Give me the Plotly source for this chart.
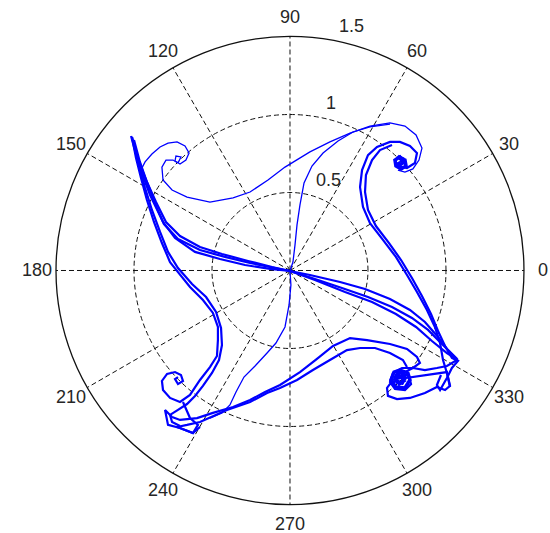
import numpy as np
import plotly.graph_objects as go

# Trajectory pieces, as cartesian components in data units (x = r cos t, y = r sin t)

# diagonal bundle: upper-left tip -> origin -> lower-right tip (three passes)
diag_a_x = [-1.013, -0.981, -0.942, -0.897, -0.859, -0.808, -0.718, -0.577, -0.417, -0.256, -0.096, 0.0,
            0.128, 0.321, 0.481, 0.641, 0.769, 0.865, 0.949, 1.013, 1.071]
diag_a_y = [0.856, 0.740, 0.631, 0.516, 0.413, 0.298, 0.202, 0.131, 0.087, 0.048, 0.016, -0.003,
            -0.029, -0.074, -0.119, -0.183, -0.253, -0.330, -0.426, -0.510, -0.567]
diag_b_x = [-1.000, -0.962, -0.917, -0.859, -0.795, -0.705, -0.577, -0.436, -0.269, -0.115, 0.0,
            0.141, 0.333, 0.500, 0.654, 0.782, 0.885, 0.974, 1.071]
diag_b_y = [0.837, 0.696, 0.567, 0.439, 0.311, 0.221, 0.151, 0.106, 0.061, 0.022, -0.003,
            -0.048, -0.112, -0.170, -0.234, -0.304, -0.381, -0.471, -0.567]
diag_c_x = [-1.019, -0.968, -0.897, -0.814, -0.737, -0.609, -0.449, -0.288, -0.128, 0.0,
            0.160, 0.353, 0.526, 0.679, 0.808, 0.910, 1.006, 1.077]
diag_c_y = [0.862, 0.676, 0.484, 0.311, 0.208, 0.119, 0.074, 0.035, 0.010, -0.003,
            -0.061, -0.138, -0.202, -0.279, -0.362, -0.452, -0.529, -0.574]

# left arm: upper-left tip down into the lower-left curl
left_a_x = [-1.013, -0.987, -0.955, -0.917, -0.872, -0.821, -0.769, -0.718, -0.641, -0.558, -0.494, -0.462,
            -0.462, -0.468, -0.513, -0.577, -0.641, -0.705, -0.769, -0.814, -0.821, -0.788, -0.737, -0.699,
            -0.686, -0.718, -0.737, -0.718]
left_a_y = [0.856, 0.721, 0.593, 0.452, 0.311, 0.176, 0.054, -0.010, -0.106, -0.189, -0.272, -0.362,
            -0.446, -0.548, -0.619, -0.702, -0.798, -0.843, -0.817, -0.766, -0.708, -0.663, -0.651, -0.670,
            -0.708, -0.728, -0.696, -0.683]
left_b_x = [-1.006, -0.968, -0.929, -0.885, -0.833, -0.782, -0.718, -0.628, -0.538, -0.474, -0.442, -0.436,
            -0.455, -0.500, -0.558, -0.609, -0.660, -0.718, -0.769, -0.756, -0.705]
left_b_y = [0.837, 0.676, 0.529, 0.388, 0.247, 0.119, 0.016, -0.087, -0.170, -0.266, -0.369, -0.478,
            -0.574, -0.657, -0.740, -0.804, -0.856, -0.894, -0.926, -0.971, -0.997]

# right arm: upper-right curl down to the lower-right tip
right_a_x = [0.705, 0.724, 0.699, 0.673, 0.692, 0.750, 0.801, 0.814, 0.769, 0.705, 0.641, 0.558, 0.500,
             0.462, 0.449, 0.468, 0.513, 0.596, 0.679, 0.750, 0.814, 0.878, 0.929, 0.962, 0.981, 1.006, 1.026]
right_a_y = [0.696, 0.721, 0.734, 0.708, 0.670, 0.657, 0.689, 0.753, 0.798, 0.824, 0.824, 0.792, 0.740,
             0.644, 0.535, 0.407, 0.304, 0.196, 0.087, -0.029, -0.138, -0.253, -0.362, -0.465, -0.574, -0.657, -0.747]
right_b_x = [0.654, 0.577, 0.526, 0.487, 0.481, 0.500, 0.551, 0.635, 0.712, 0.782, 0.846, 0.904, 0.949,
             0.994, 1.038, 1.077, 1.038, 1.006, 0.962, 0.942, 0.968]
right_b_y = [0.804, 0.772, 0.708, 0.612, 0.503, 0.388, 0.285, 0.176, 0.067, -0.048, -0.163, -0.279, -0.388,
             -0.484, -0.561, -0.580, -0.625, -0.689, -0.766, -0.734, -0.670]

# top arm: upper-left curl over to the upper-right curl
top_x = [-0.718, -0.750, -0.795, -0.821, -0.814, -0.756, -0.660, -0.513, -0.365, -0.256, -0.141, -0.032,
         0.128, 0.256, 0.385, 0.513, 0.641, 0.737, 0.808, 0.846, 0.827, 0.788, 0.737, 0.692]
top_y = [0.689, 0.708, 0.708, 0.663, 0.580, 0.516, 0.471, 0.439, 0.465, 0.503, 0.580, 0.663,
         0.760, 0.824, 0.881, 0.926, 0.946, 0.926, 0.869, 0.785, 0.708, 0.651, 0.631, 0.644]

# outer turn of the upper-left curl
ul_curl_x = [-0.962, -0.929, -0.885, -0.833, -0.782, -0.724, -0.673, -0.647, -0.667, -0.705, -0.737, -0.731,
             -0.699, -0.718]
ul_curl_y = [0.631, 0.696, 0.747, 0.792, 0.817, 0.824, 0.798, 0.753, 0.708, 0.683, 0.702, 0.734,
             0.728, 0.689]

# thin strands leaving the origin upward and downward
up_x = [0.0, 0.019, 0.032, 0.045, 0.064, 0.090, 0.141, 0.212, 0.308, 0.404, 0.513, 0.641]
up_y = [-0.003, 0.054, 0.163, 0.292, 0.420, 0.561, 0.670, 0.753, 0.830, 0.888, 0.920, 0.939]
down_x = [0.0, 0.006, -0.006, -0.032, -0.090, -0.147, -0.224, -0.295, -0.346, -0.385, -0.436, -0.513]
down_y = [-0.003, -0.093, -0.221, -0.362, -0.465, -0.529, -0.612, -0.683, -0.779, -0.862, -0.913, -0.946]

# bottom arm: lower-right curl over to the lower-left corner (two passes)
bottom_a_x = [0.712, 0.737, 0.788, 0.833, 0.814, 0.750, 0.641, 0.494, 0.385, 0.276, 0.173, 0.064, -0.064,
              -0.160, -0.256, -0.365, -0.494, -0.596, -0.705, -0.756]
bottom_a_y = [-0.689, -0.651, -0.625, -0.593, -0.554, -0.503, -0.471, -0.446, -0.433, -0.484, -0.567, -0.651,
              -0.734, -0.779, -0.830, -0.875, -0.913, -0.946, -0.958, -0.939]
bottom_b_x = [0.750, 0.724, 0.641, 0.545, 0.449, 0.365, 0.256, 0.147, 0.045, -0.064, -0.147, -0.256, -0.404,
              -0.577, -0.660, -0.724, -0.622, -0.577]
bottom_b_y = [-0.619, -0.574, -0.529, -0.497, -0.497, -0.510, -0.574, -0.638, -0.702, -0.753, -0.785, -0.843,
              -0.894, -0.971, -0.990, -1.003, -1.042, -1.003]

# lower-right curl, wound tightly
lr_curl_x = [1.071, 1.006, 0.942, 0.865, 0.788, 0.718, 0.660, 0.641, 0.673, 0.737, 0.776, 0.763, 0.712,
             0.673, 0.699, 0.737, 0.712, 0.660, 0.622, 0.628, 0.686, 0.769, 0.865, 0.942, 0.994, 1.026, 1.006,
             0.744, 0.724, 0.686, 0.667, 0.686, 0.724, 0.744]
lr_curl_y = [-0.574, -0.612, -0.625, -0.638, -0.625, -0.625, -0.657, -0.715, -0.760, -0.766, -0.728, -0.676,
             -0.657, -0.689, -0.734, -0.708, -0.689, -0.702, -0.753, -0.804, -0.824, -0.817, -0.785, -0.747,
             -0.766, -0.740, -0.651, -0.689, -0.721, -0.721, -0.689, -0.657, -0.657, -0.689]

# innermost windings of the two right-hand curls
ur_core_x = [0.705, 0.737, 0.744, 0.712, 0.679, 0.673, 0.705, 0.731, 0.705, 0.692]
ur_core_y = [0.721, 0.708, 0.670, 0.651, 0.670, 0.708, 0.728, 0.696, 0.676, 0.696]
lr_core_x = [0.705, 0.756, 0.769, 0.737, 0.679, 0.647, 0.667, 0.705, 0.731, 0.718, 0.679, 0.692, 0.718]
lr_core_y = [-0.638, -0.657, -0.702, -0.753, -0.747, -0.702, -0.651, -0.638, -0.676, -0.721, -0.708, -0.667, -0.689]

# small loops under the lower-left curl
ll_loop_x = [-0.756, -0.801, -0.782, -0.705, -0.622, -0.590, -0.641, -0.686]
ll_loop_y = [-0.939, -0.894, -0.990, -1.010, -1.042, -0.990, -0.946, -0.843]

heavy = [
    (diag_a_x, diag_a_y), (diag_b_x, diag_b_y), (diag_c_x, diag_c_y),
    (left_a_x, left_a_y), (left_b_x, left_b_y),
    (right_a_x, right_a_y), (right_b_x, right_b_y),
    (bottom_a_x, bottom_a_y), (bottom_b_x, bottom_b_y),
    (lr_curl_x, lr_curl_y), (ll_loop_x, ll_loop_y),
]
light = [(top_x, top_y), (ul_curl_x, ul_curl_y), (up_x, up_y), (down_x, down_y)]
cores = [(ur_core_x, ur_core_y), (lr_core_x, lr_core_y)]

angle_ticks = list(range(0, 360, 30))
rho_ticks = [0.5, 1.0, 1.5]
rho_labels = ["0.5", "1", "1.5"]
rho_label_r = [0.632, 1.108, 1.619]
rho_label_t = [67.3, 76.3, 75.9]
rho_max = 1.5

# polar area placement (paper fractions) and its pixel geometry
DOM_X = [0.1018, 0.9527]
DOM_Y = [0.0535, 0.9315]
W, H = 550, 533
radius_px = min((DOM_X[1] - DOM_X[0]) * W, (DOM_Y[1] - DOM_Y[0]) * H) / 2
cx = (DOM_X[0] + DOM_X[1]) / 2
cy = (DOM_Y[0] + DOM_Y[1]) / 2


def paper_xy(r, t_deg):
    """Map a (radius, angle) pair onto paper coordinates of the polar area."""
    k = r / rho_max * radius_px
    t = np.radians(t_deg)
    return cx + k * np.cos(t) / W, cy + k * np.sin(t) / H


fig = go.Figure()


def add_path(xs, ys, width):
    xs = np.asarray(xs)
    ys = np.asarray(ys)
    fig.add_trace(go.Scatterpolar(
        r=np.hypot(xs, ys),
        theta=np.degrees(np.arctan2(ys, xs)),
        mode="lines",
        line=dict(color="#0000ff", width=width),
        hoverinfo="skip",
        showlegend=False,
    ))


for xs, ys in light:
    add_path(xs, ys, 1.3)
for xs, ys in heavy:
    add_path(xs, ys, 2.2)
for xs, ys in cores:
    add_path(xs, ys, 3.5)

label_font = dict(family="Liberation Sans, Arial, sans-serif", size=18, color="#262626")

# angle labels centred on a ring just outside the rim
for a in angle_ticks:
    x, y = paper_xy(rho_max * 1.083, a)
    fig.add_annotation(x=x, y=y, xref="paper", yref="paper", text=str(a), showarrow=False,
                       xanchor="center", yanchor="middle", font=label_font)

# radius labels
for lab, r, t in zip(rho_labels, rho_label_r, rho_label_t):
    x, y = paper_xy(r, t)
    fig.add_annotation(x=x, y=y, xref="paper", yref="paper", text=lab, showarrow=False,
                       xanchor="center", yanchor="middle", font=label_font)

fig.update_layout(
    width=W,
    height=H,
    margin=dict(l=0, r=0, t=0, b=0),
    paper_bgcolor="white",
    plot_bgcolor="white",
    polar=dict(
        domain=dict(x=DOM_X, y=DOM_Y),
        bgcolor="white",
        radialaxis=dict(
            range=[0, rho_max],
            tickvals=rho_ticks,
            showticklabels=False,
            ticks="",
            showline=False,
            gridcolor="#111111",
            gridwidth=1.2,
            griddash="5px,3px",
        ),
        angularaxis=dict(
            direction="counterclockwise",
            rotation=0,
            tickvals=angle_ticks,
            showticklabels=False,
            ticks="",
            showline=True,
            linecolor="#111111",
            linewidth=1.3,
            gridcolor="#111111",
            gridwidth=1.2,
            griddash="5px,3px",
        ),
    ),
)

fig.write_html("out.html")
